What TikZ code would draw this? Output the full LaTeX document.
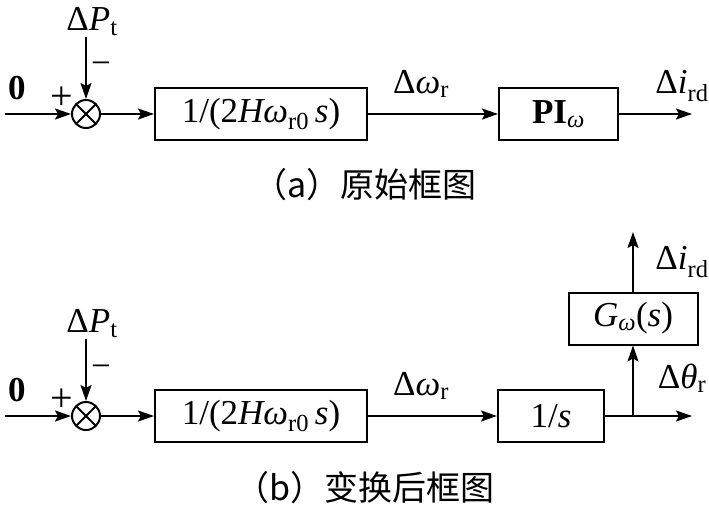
\documentclass[tikz,border=0pt]{standalone}
\usepackage{fontspec}
\setmainfont{Liberation Serif}
\newfontfamily\cjk{Noto Sans CJK SC}
\usetikzlibrary{math,arrows.meta}

\newcommand{\sbs}[1]{\textsubscript{#1}}
\newcommand{\lblfont}{\fontsize{35}{40}\selectfont}

\tikzset{
    blk/.style = {draw, line width = 2pt, minimum height = 52pt, inner sep = 0pt, font = \lblfont},
    sumnode/.style = {draw, circle, line width = 2pt, minimum size = 28pt, inner sep = 0pt,
        path picture = {
            \draw[line width = 2pt] (path picture bounding box.north west) -- (path picture bounding box.south east);
            \draw[line width = 2pt] (path picture bounding box.north east) -- (path picture bounding box.south west);
        }},
    sig/.style = {line width = 2pt, -{Stealth[length = 16pt, width = 11pt, inset = 3pt]}},
    lbl/.style = {inner sep = 0pt, font = \lblfont},
    capt/.style = {inner sep = 0pt, font = \fontsize{34}{40}\selectfont\cjk},
}

\begin{document}
\begin{tikzpicture}[x = 1pt, y = -1pt]
    \tikzmath{
        \ya = 114;
        \yb = 416;
        \xs = 86;
    }

\useasboundingbox (0, 0) rectangle (709, 507);

% (a) original
\coordinate (inA) at (5, \ya);
\coordinate (dpTopA) at (\xs, 37);
\coordinate (outA) at (692, \ya);
\node[sumnode] (sumA) at (\xs, \ya) {};
\node[lbl] (zeroA) at (17, 88) {\textbf{0}};
\node[lbl, font = \fontsize{40}{44}\selectfont] (plusA) at (62, 98) {+};
\node[lbl] (minusA) at (101, 68) {−};
\node[lbl, anchor = south] (dpA) at (92, 36) {Δ\textit{P}\sbs{t}};
\node[blk, minimum width = 212pt] (intA) at (261, \ya) {1/(2\textit{Hω}\sbs{r0}\,\textit{s})};
\node[blk, minimum width = 119pt] (piA) at (558.5, \ya) {\textbf{PI}\sbs{\textit{ω}}};
\node[lbl] (dwA) at (421, 84) {Δ\textit{ω}\sbs{r}};
\node[lbl] (diA) at (682, 86) {Δ\textit{i}\sbs{rd}};

\draw[sig] (inA) -- (sumA);
\draw[sig] (dpTopA) -- (sumA);
\draw[sig] (sumA) -- (intA);
\draw[sig] (intA) -- (piA);
\draw[sig] (piA) -- (outA);

\node[capt] (captA) at (365, 185) {（a）原始框图};

% (b) transformed
\coordinate (inB) at (5, \yb);
\coordinate (dpTopB) at (\xs, 339);
\coordinate (brB) at (633, \yb);
\coordinate (outB) at (692, \yb);
\coordinate (upB) at (633, 232);
\node[sumnode] (sumB) at (\xs, \yb) {};
\node[lbl] (zeroB) at (17, 390) {\textbf{0}};
\node[lbl, font = \fontsize{40}{44}\selectfont] (plusB) at (62, 400) {+};
\node[lbl] (minusB) at (101, 371) {−};
\node[lbl, anchor = south] (dpB) at (92, 338) {Δ\textit{P}\sbs{t}};
\node[blk, minimum width = 212pt] (intB) at (261, \yb) {1/(2\textit{Hω}\sbs{r0}\,\textit{s})};
\node[blk, minimum width = 106pt] (sB) at (551, \yb) {1/\textit{s}};
\node[blk, minimum width = 129pt] (gB) at (633, 318.5) {\textit{G}\sbs{\textit{ω}}(\textit{s})};
\node[lbl] (dwB) at (421, 386) {Δ\textit{ω}\sbs{r}};
\node[lbl] (dtB) at (682, 378) {Δ\textit{θ}\sbs{r}};
\node[lbl] (diB) at (682, 262) {Δ\textit{i}\sbs{rd}};

\draw[sig] (inB) -- (sumB);
\draw[sig] (dpTopB) -- (sumB);
\draw[sig] (sumB) -- (intB);
\draw[sig] (intB) -- (sB);
\draw[line width = 2pt] (sB) -- (brB);
\draw[sig] (brB) -- (outB);
\draw[sig] (brB) -- (gB);
\draw[sig] (gB) -- (upB);

\node[capt] (captB) at (365, 488) {（b）变换后框图};

\end{tikzpicture}
\end{document}
